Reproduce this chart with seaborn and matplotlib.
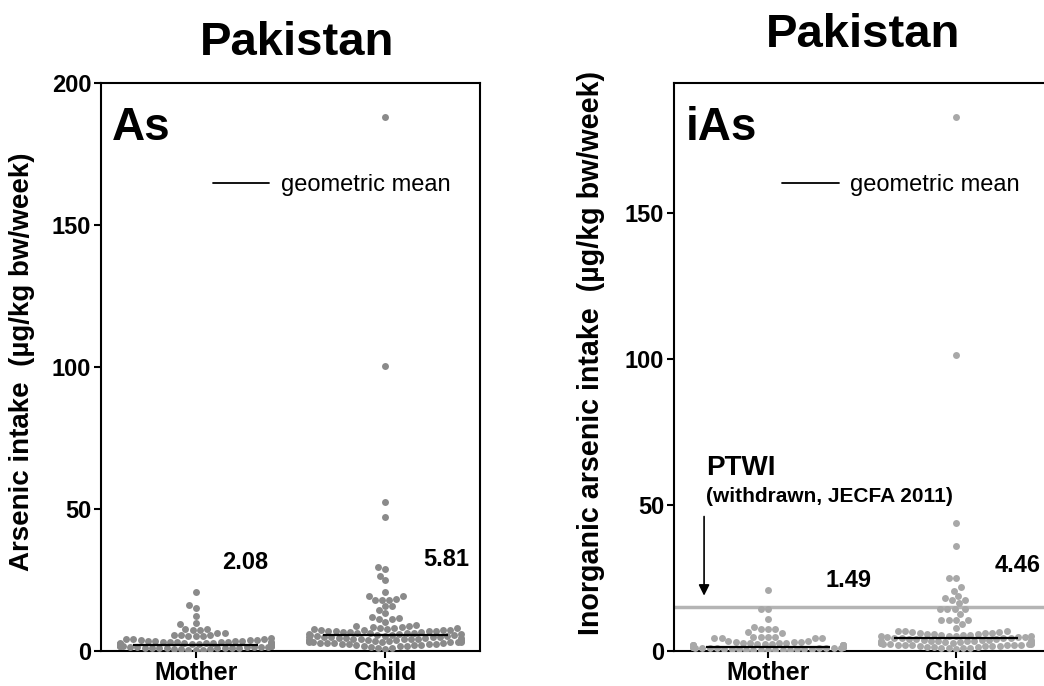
import pandas as pd
import seaborn as sns
import matplotlib.pyplot as plt
from matplotlib.lines import Line2D

# --- Data ---
groups = ["Mother", "Child"]

mother_as = [20.7, 16.2, 15.0, 12.4, 9.7, 9.4, 7.8, 7.6, 7.5, 7.4, 6.3, 6.2, 5.8, 5.6, 5.5, 5.4, 5.3, 5.2,
             4.6, 4.4, 4.3, 4.1, 4.0, 3.9, 3.8, 3.7, 3.6, 3.5, 3.4, 3.3, 3.3, 3.2, 3.1, 3.0, 3.0, 2.9,
             2.8, 2.8, 2.7, 2.7, 2.6, 2.6, 2.5, 2.5, 2.4, 2.4, 2.3, 2.3, 2.2, 2.2, 2.1, 2.1, 2.0, 2.0,
             1.9, 1.9, 1.8, 1.8, 1.7, 1.7, 1.6, 1.6, 1.5, 1.5, 1.4, 1.4, 1.3, 1.3, 1.2, 1.2, 1.1, 1.1,
             1.0, 1.0, 0.9, 0.9, 0.8, 0.7, 0.6, 0.5, 0.4, 0.3]

child_as = [188.0, 100.4, 52.6, 47.3, 29.5, 28.8, 26.5, 24.9, 20.7, 19.4, 19.4, 18.4, 18.0, 18.0, 18.0,
            15.8, 15.8, 14.5, 13.3, 11.9, 11.6, 11.3, 11.2, 10.2, 9.0, 8.8, 8.7, 8.5, 8.3, 8.1, 8.0, 8.0,
            7.8, 7.6, 7.5, 7.4, 7.4, 7.3, 7.2, 7.1, 7.0, 6.9, 6.8, 6.7, 6.6, 6.5, 6.4, 6.3, 6.2, 6.1,
            6.0, 5.9, 5.8, 5.7, 5.6, 5.5, 5.4, 5.3, 5.2, 5.1, 5.0, 4.9, 4.8, 4.8, 4.7, 4.6, 4.5, 4.5,
            4.4, 4.3, 4.2, 4.2, 4.1, 4.0, 3.9, 3.9, 3.8, 3.7, 3.6, 3.6, 3.5, 3.4, 3.3, 3.3, 3.2, 3.1,
            3.0, 3.0, 2.9, 2.8, 2.7, 2.7, 2.6, 2.5, 2.4, 2.3, 2.2, 2.1, 2.0, 1.9, 1.8, 1.6, 1.4, 1.2,
            1.0, 0.8]

mother_ias = [20.9, 14.5, 14.5, 11.1, 8.3, 7.4, 7.4, 7.4, 6.6, 6.1, 4.9, 4.9, 4.9, 4.9, 4.3, 4.3, 4.3, 4.3,
              3.6, 3.4, 3.2, 3.1, 3.0, 2.9, 2.8, 2.7, 2.6, 2.5, 2.4, 2.3, 2.2, 2.2, 2.1, 2.0, 2.0, 1.9,
              1.9, 1.8, 1.8, 1.7, 1.7, 1.6, 1.6, 1.5, 1.5, 1.4, 1.4, 1.3, 1.3, 1.2, 1.2, 1.1, 1.1, 1.0,
              1.0, 0.9, 0.9, 0.8, 0.8, 0.7, 0.7, 0.6, 0.6, 0.5, 0.5, 0.4, 0.4, 0.3, 0.3, 0.2]

child_ias = [182.9, 101.2, 43.7, 36.1, 25.1, 25.1, 21.8, 20.7, 18.8, 18.0, 17.5, 17.5, 16.3,
             14.3, 14.3, 14.3, 14.3, 12.6, 10.6, 10.6, 10.6, 10.6, 9.1, 7.8, 7.0, 7.0, 7.0, 6.5, 6.5,
             6.2, 6.1, 6.0, 5.9, 5.8, 5.7, 5.6, 5.5, 5.4, 5.3, 5.2, 5.1, 5.0, 4.9, 4.8, 4.7, 4.6, 4.5,
             4.4, 4.3, 4.2, 4.1, 4.0, 3.9, 3.8, 3.8, 3.7, 3.6, 3.5, 3.5, 3.4, 3.3, 3.2, 3.2, 3.1, 3.0,
             3.0, 2.9, 2.8, 2.8, 2.7, 2.6, 2.6, 2.5, 2.4, 2.4, 2.3, 2.2, 2.2, 2.1, 2.0, 2.0, 1.9, 1.8,
             1.8, 1.7, 1.6, 1.5, 1.4, 1.3, 1.2, 1.1, 1.0, 0.9, 0.8]

gm_as = [2.08, 5.81]
gm_ias = [1.49, 4.46]
ptwi = 15

# --- Style ---
sns.set_style("ticks")
plt.rcParams["font.family"] = ["Liberation Sans", "DejaVu Sans"]
plt.rcParams.update({"axes.linewidth": 1.5, "text.color": "black", "axes.labelcolor": "black",
                     "xtick.color": "black", "ytick.color": "black", "axes.edgecolor": "black"})


def long_form(mother, child):
    return pd.DataFrame({"group": ["Mother"] * len(mother) + ["Child"] * len(child),
                         "value": mother + child})


fig = plt.figure(figsize=(10.44, 6.86), dpi=100)
ax1 = fig.add_axes([0.0967, 0.051, 0.363, 0.828])
ax2 = fig.add_axes([0.6456, 0.051, 0.360, 0.828])

panels = [
    (ax1, long_form(mother_as, child_as), gm_as, "#8a8a8a", "As", 200,
     "Arsenic intake  (µg/kg bw/week)", 20, [(0.26, 28.9), (1.32, 29.9)], (0.295, 0.82),
     (-0.174, 0.51)),
    (ax2, long_form(mother_ias, child_ias), gm_ias, "#a8a8a8", "iAs", 194.5,
     "Inorganic arsenic intake  (µg/kg bw/week)", 20.6, [(0.43, 21.9), (1.33, 27.0)], (0.287, 0.82),
     (-0.1835, 0.525)),
]

for ax, df, gm, col, tag, ytop, ylab, ylab_fs, lab_pos, leg_pos, ylab_xy in panels:
    sns.swarmplot(data=df, x="group", y="value", order=groups, color=col, size=5,
                  ax=ax, warn_thresh=1, zorder=3)
    for i, g in enumerate(gm):
        ax.hlines(g, i - 0.33, i + 0.33, color="black", lw=1.6, zorder=4)
        ax.text(lab_pos[i][0], lab_pos[i][1], f"{g:.2f}", ha="center", va="baseline",
                fontsize=17, fontweight="bold")
    ax.set_xlim(-0.5, 1.5)
    ax.set_ylim(0, ytop)
    ax.set_yticks([0, 50, 100, 150] + ([200] if ytop >= 200 else []))
    ax.set_xlabel("")
    ax.set_ylabel(ylab, fontsize=ylab_fs, fontweight="bold")
    ax.yaxis.set_label_coords(*ylab_xy)
    ax.tick_params(direction="out", length=5, width=1.5, labelsize=17, pad=2)
    for lbl in ax.get_xticklabels() + ax.get_yticklabels():
        lbl.set_fontweight("bold")
    for lbl in ax.get_xticklabels():
        lbl.set_fontsize(18)
    for s in ax.spines.values():
        s.set_visible(True)
        s.set_linewidth(1.5)
    ax.text(0.03, 0.90, tag, transform=ax.transAxes, fontsize=33, fontweight="bold",
            va="baseline", ha="left")
    ax.legend(handles=[Line2D([], [], color="black", lw=1.3, label="geometric mean")],
              loc="center left", bbox_to_anchor=leg_pos, frameon=False, fontsize=17,
              handlelength=2.4, handletextpad=0.5, borderpad=0, borderaxespad=0)

# PTWI reference line on the inorganic panel
ax2.axhline(ptwi, color="#b4b4b4", lw=2.5, zorder=1)
ax2.text(-0.33, 60.3, "PTWI", fontsize=20, fontweight="bold", va="baseline", ha="left")
ax2.text(-0.33, 51, "(withdrawn, JECFA 2011)", fontsize=15, fontweight="bold",
         va="baseline", ha="left")
ax2.annotate("", xy=(-0.34, 18), xytext=(-0.34, 47),
             arrowprops=dict(arrowstyle="-|>", color="black", lw=1.2, mutation_scale=16))

fig.text(0.2845, 0.92, "Pakistan", ha="center", va="baseline", fontsize=34, fontweight="bold")
fig.text(0.827, 0.931, "Pakistan", ha="center", va="baseline", fontsize=34, fontweight="bold")

fig.savefig("out.png", dpi=100)
